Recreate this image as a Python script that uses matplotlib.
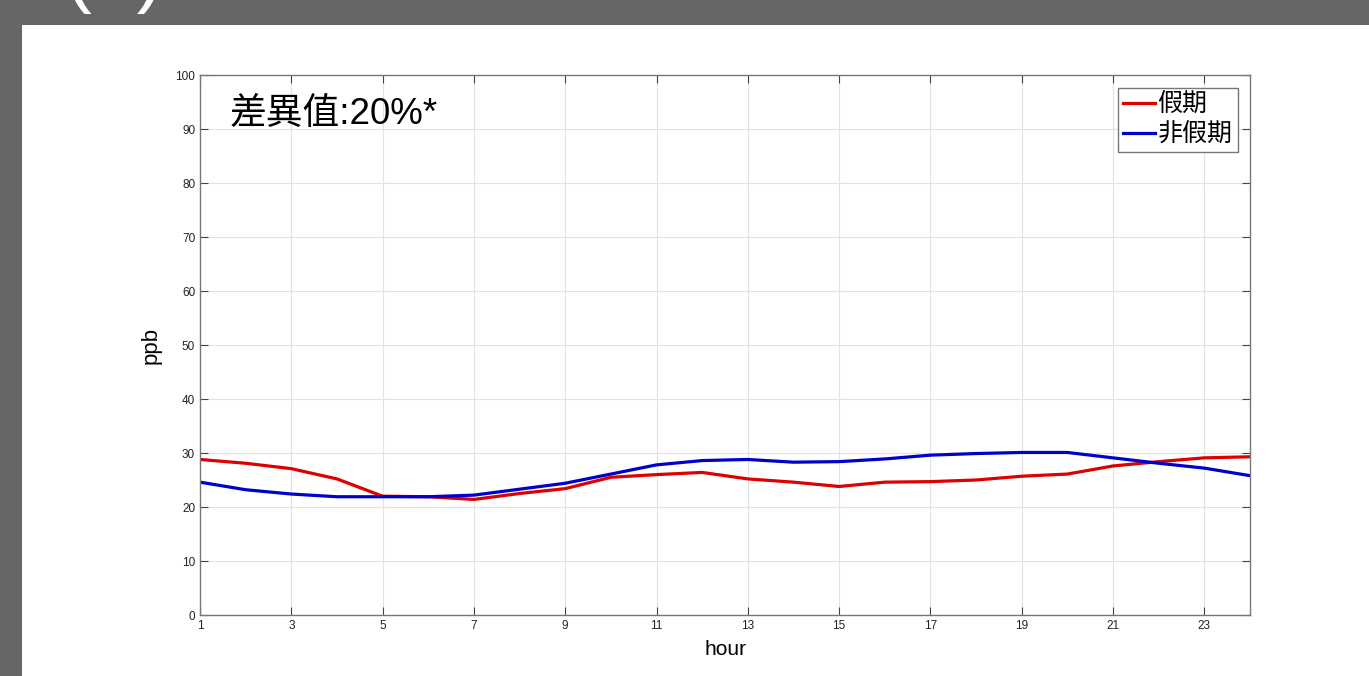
import matplotlib.pyplot as plt
from matplotlib.patches import Rectangle

plt.rcParams['font.family'] = ['Liberation Sans', 'Noto Sans CJK TC', 'DejaVu Sans']

# 每小時濃度 (ppb)
hours = list(range(1, 25))
holiday = [28.8, 28.1, 27.1, 25.2, 22.0, 21.9, 21.4, 22.5, 23.4, 25.5, 26.0, 26.4,
           25.2, 24.6, 23.8, 24.6, 24.7, 25.0, 25.7, 26.1, 27.6, 28.4, 29.1, 29.3]
workday = [24.6, 23.2, 22.4, 21.9, 21.9, 21.9, 22.2, 23.3, 24.4, 26.1, 27.8, 28.6,
           28.8, 28.3, 28.4, 28.9, 29.6, 29.9, 30.1, 30.1, 29.1, 28.1, 27.2, 25.8]
labels = ['假期', '非假期']
xticks = list(range(1, 24, 2))
yticks = list(range(0, 101, 10))

fig = plt.figure(figsize=(13.69, 6.76), dpi=100, facecolor='#666666')

# 白色底板
fig.patches.append(Rectangle((22 / 1369, 0), 1, 1 - 25 / 676, transform=fig.transFigure,
                             facecolor='white', edgecolor='none', zorder=-10))
fig.text(114 / 1369, 1.005, '(a)', color='white', fontsize=58, ha='center', va='baseline')

ax = fig.add_axes([200 / 1369, 1 - 615 / 676, 1050 / 1369, 540 / 676])
ax.set_zorder(5)
ax.plot(hours, holiday, color='#dd0000', linewidth=2.3, label=labels[0])
ax.plot(hours, workday, color='#0000cc', linewidth=2.3, label=labels[1])

ax.set_xlim(1, 24)
ax.set_ylim(0, 100)
ax.set_xticks(xticks)
ax.set_yticks(yticks)
ax.tick_params(direction='in', labelsize=8.5, length=6, colors='#444444',
               top=True, right=True, labelcolor='#222222')
ax.grid(True, color='#e2e2e2', linewidth=0.8)
ax.set_axisbelow(True)
for s in ax.spines.values():
    s.set_color('#777777')
    s.set_linewidth(1.0)

ax.set_xlabel('hour', fontsize=15, labelpad=6)
ax.set_ylabel('ppb', fontsize=16, labelpad=10)

ax.text(0.028, 0.926, '差異值:20%*', transform=ax.transAxes, fontsize=26.5,
        ha='left', va='center')

leg = ax.legend(loc='upper right', fontsize=18, fancybox=False, framealpha=1,
                edgecolor='#777777', handlelength=1.3, handletextpad=0.1,
                borderpad=0.2, labelspacing=0.25, borderaxespad=0.5)
leg.get_frame().set_linewidth(1.0)

fig.savefig('out.png', dpi=100, facecolor=fig.get_facecolor())
